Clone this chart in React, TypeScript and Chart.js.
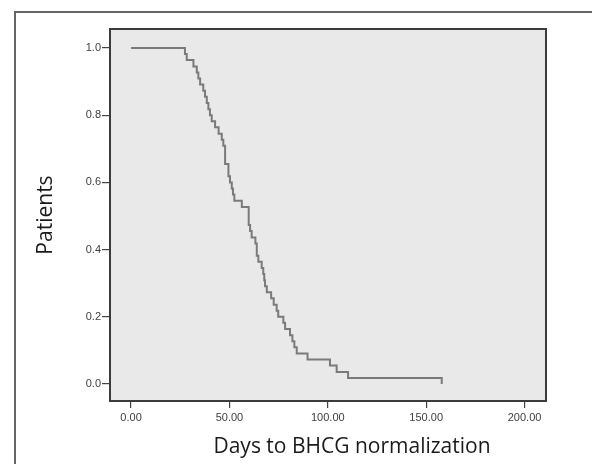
import React, { useEffect, useRef } from "react";
import { Chart, registerables } from "chart.js";

Chart.register(...registerables);

// Kaplan-Meier step data
const eventDays = [
  0, 27.4, 28.3, 31.7, 33.4, 34.2, 35.1, 36.7, 37.6, 38.5, 39.3, 40.1, 41.0,
  42.7, 44.5, 46.1, 46.9, 47.8, 49.5, 50.3, 51.2, 51.8, 52.5, 56.3, 59.8,
  60.5, 61.3, 63.2, 63.9, 64.7, 66.4, 67.2, 67.7, 68.1, 69.0, 71.2, 72.5,
  74.0, 74.8, 77.4, 78.3, 80.8, 82.0, 83.0, 84.2, 89.7, 101.1, 104.5, 110.3,
  157.9,
];
const survival = [
  1.0, 0.982, 0.964, 0.945, 0.927, 0.909, 0.891, 0.873, 0.855, 0.836, 0.818,
  0.8, 0.782, 0.764, 0.745, 0.727, 0.709, 0.655, 0.618, 0.6, 0.582, 0.564,
  0.545, 0.527, 0.473, 0.455, 0.436, 0.418, 0.382, 0.364, 0.345, 0.327, 0.309,
  0.291, 0.273, 0.255, 0.236, 0.218, 0.2, 0.182, 0.164, 0.145, 0.127, 0.109,
  0.091, 0.073, 0.055, 0.036, 0.018, 0.0,
];

const xTickValues = [0, 50, 100, 150, 200];
const xTickLabels = ["0.00", "50.00", "100.00", "150.00", "200.00"];
const yTickValues = [0, 0.2, 0.4, 0.6, 0.8, 1.0];
const yTickLabels = ["0.0", "0.2", "0.4", "0.6", "0.8", "1.0"];
const xAxisTitle = "Days to BHCG normalization";
const yAxisTitle = "Patients";

const X_MIN = -10.7;
const X_MAX = 210.9;
const Y_MIN = -0.0506;
const Y_MAX = 1.0565;

const W = 592;
const H = 464;

const framePlugin = {
  id: "plotFrame",
  beforeDraw(chart: any) {
    const { ctx, chartArea: a } = chart;
    ctx.save();
    ctx.fillStyle = "#e9e9e9";
    ctx.fillRect(a.left, a.top, a.right - a.left, a.bottom - a.top);
    ctx.restore();
  },
  afterDraw(chart: any) {
    const { ctx, chartArea: a } = chart;
    ctx.save();
    ctx.strokeStyle = "#3c3c3c";
    ctx.lineWidth = 2;
    ctx.strokeRect(a.left, a.top, a.right - a.left, a.bottom - a.top);
    ctx.fillStyle = "#1a1a1a";
    ctx.font = '21px "Open Sans"';
    ctx.textAlign = "center";
    ctx.textBaseline = "alphabetic";
    ctx.fillText(xAxisTitle, 352, 453);
    ctx.translate(46, 215);
    ctx.rotate(-Math.PI / 2);
    ctx.textBaseline = "middle";
    ctx.fillText(yAxisTitle, 0, 0);
    ctx.restore();
  },
};

export default function App() {
  const ref = useRef<HTMLCanvasElement | null>(null);

  useEffect(() => {
    if (!ref.current) return;
    const points = eventDays.map((d, i) => ({ x: d, y: survival[i] }));
    const chart = new Chart(ref.current, {
      type: "scatter",
      data: {
        datasets: [
          {
            data: points,
            showLine: true,
            stepped: "before",
            borderColor: "#7a7a7a",
            borderWidth: 2,
            pointRadius: 0,
            fill: false,
          },
        ],
      },
      options: {
        animation: false,
        responsive: false,
        devicePixelRatio: 1,
        layout: { padding: { left: 0, top: 29, right: 46, bottom: 0 } },
        plugins: { legend: { display: false }, tooltip: { enabled: false } },
        scales: {
          x: {
            type: "linear",
            min: X_MIN,
            max: X_MAX,
            afterFit: (s: any) => {
              s.height = 63;
            },
            afterBuildTicks: (s: any) => {
              s.ticks = xTickValues.map((v) => ({ value: v }));
            },
            border: { display: false },
            grid: {
              drawOnChartArea: false,
              drawTicks: true,
              tickLength: 7,
              color: "#444",
              lineWidth: 1.2,
            },
            ticks: {
              padding: 3,
              color: "#404040",
              font: { family: "Liberation Sans", size: 11 },
              callback: (v: any) => {
                const i = xTickValues.indexOf(Number(v));
                return i >= 0 ? xTickLabels[i] : "";
              },
            },
          },
          y: {
            type: "linear",
            min: Y_MIN,
            max: Y_MAX,
            afterFit: (s: any) => {
              s.width = 110;
            },
            afterBuildTicks: (s: any) => {
              s.ticks = yTickValues.map((v) => ({ value: v }));
            },
            border: { display: false },
            grid: {
              drawOnChartArea: false,
              drawTicks: true,
              tickLength: 8,
              color: "#444",
              lineWidth: 1.2,
            },
            ticks: {
              padding: 1,
              color: "#404040",
              font: { family: "Liberation Sans", size: 11 },
              callback: (v: any) => {
                const i = yTickValues.findIndex((t) => Math.abs(t - Number(v)) < 1e-9);
                return i >= 0 ? yTickLabels[i] : "";
              },
            },
          },
        },
      },
      plugins: [framePlugin],
    });
    return () => chart.destroy();
  }, []);

  return (
    <div
      style={{
        position: "fixed",
        left: 0,
        top: 0,
        width: W,
        height: H,
        background: "#fff",
        overflow: "hidden",
      }}
    >
      <div
        style={{
          position: "absolute",
          left: 14,
          top: 11,
          width: W,
          height: H,
          borderLeft: "2px solid #666",
          borderTop: "2px solid #666",
          boxSizing: "border-box",
        }}
      />
      <canvas
        ref={ref}
        width={W}
        height={H}
        style={{ position: "absolute", left: 0, top: 0, width: W, height: H }}
      />
    </div>
  );
}
